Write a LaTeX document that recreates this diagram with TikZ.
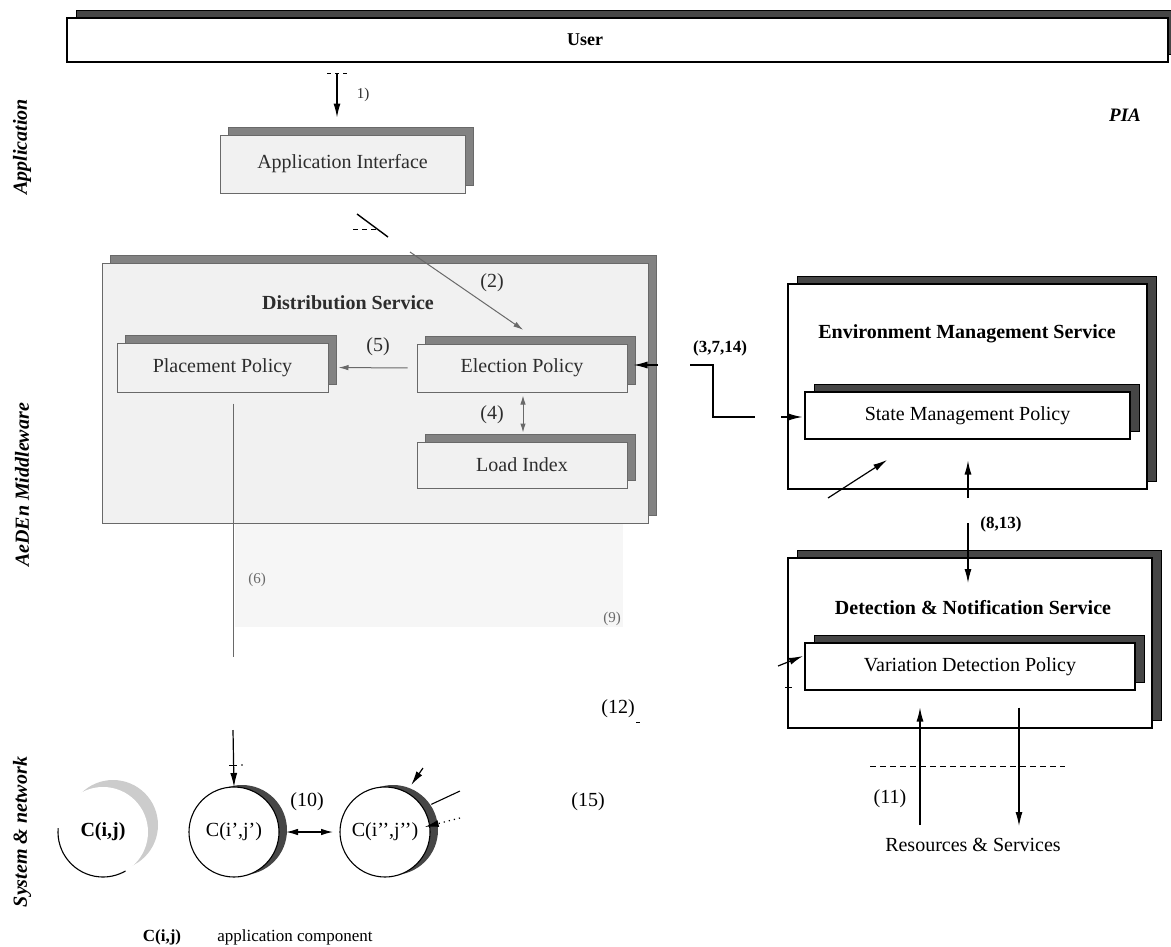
\documentclass[tikz,border=0pt]{standalone}
\usepackage{fontspec}
\setmainfont{Liberation Serif}
\usetikzlibrary{positioning,arrows.meta,shadows}
\definecolor{PanelGray}{RGB}{241,241,241}
\definecolor{EdgeGray}{RGB}{105,105,105}
\definecolor{ShadeGray}{RGB}{130,130,130}
\definecolor{ShadeDark}{RGB}{70,70,70}
\definecolor{InkGray}{RGB}{45,45,45}
\definecolor{GhostGray}{RGB}{246,246,246}

\begin{document}
\begin{tikzpicture}[x=1pt, y=-1pt, every node/.style={font=\fontsize{20}{24}\selectfont, inner sep=0pt}]
\tikzset{
  mwbox/.style={draw=EdgeGray, fill=PanelGray, line width=1pt, text=InkGray,
    copy shadow={shadow xshift=8pt, shadow yshift=8pt, fill=ShadeGray, draw=EdgeGray, line width=1pt}},
  svbox/.style={draw=black, fill=white, line width=1.1pt,
    copy shadow={shadow xshift=9pt, shadow yshift=8pt, fill=ShadeDark, draw=black, line width=1pt}},
  comp/.style={circle, fill=white, line width=1.1pt, minimum size=90pt, outer sep=0pt},
  cdark/.style={comp, draw=black,
    copy shadow={shadow xshift=8pt, shadow yshift=2pt, fill=ShadeDark, draw=none}},
  cghost/.style={comp, draw=none,
    copy shadow={shadow xshift=10pt, shadow yshift=7pt, fill=gray!40, draw=none}},
  numtag/.style={font=\fontsize{17}{20}\selectfont\bfseries},
  smalltag/.style={font=\fontsize{15}{18}\selectfont, text=EdgeGray},
  sidelabel/.style={rotate=90, font=\fontsize{20}{24}\selectfont\bfseries\itshape},
  arr/.style={-{Latex[length=14pt,width=7pt]}, line width=1.2pt},
  grayarr/.style={-{Latex[length=10pt,width=5.5pt]}, line width=1pt, EdgeGray},
  grayline/.style={line width=1pt, EdgeGray}
}
\useasboundingbox (0,0) rectangle (1171,946);
% layer labels
\node[sidelabel] (lapp) at (22,147) {Application};
\node[sidelabel] (lmid) at (22,485) {AeDEn Middleware};
\node[sidelabel] (lsys) at (22,832) {System \& network};
\node[font=\fontsize{19}{22}\selectfont\bfseries\itshape] (pia) at (1125,115) {PIA};

% user and application layer
\node[svbox, minimum width=1101pt, minimum height=44pt] (user) at (617.5,40) {};
\node[font=\fontsize{18}{22}\selectfont\bfseries] (usertxt) at (585,40) {User};
\node[mwbox, minimum width=245pt, minimum height=58pt] (appif) at (342.5,164) {Application Interface};
\coordinate (u1) at (337,73);
\draw[arr, shorten >=17pt] (u1) -- (u1 |- appif.north);
\draw[dashed, dash pattern=on 4pt off 4pt, line width=0.8pt] ([xshift=-10pt]u1) -- ([xshift=10pt]u1);
\node[font=\fontsize{15}{18}\selectfont, text=InkGray] (l1) at (363,95) {1)};

% distribution service
\fill[GhostGray] (235,523) rectangle (623,627);
\node[mwbox, minimum width=546pt, minimum height=260pt] (dist) at (375,393) {};
\node[font=\fontsize{20}{24}\selectfont\bfseries, text=InkGray] (disttxt) at (348,303) {Distribution Service};
\node[mwbox, minimum width=211pt, minimum height=49pt] (place) at (222.5,367.5) {Placement Policy};
\node[mwbox, minimum width=210pt, minimum height=48pt] (elect) at (522,368) {Election Policy};
\node[mwbox, minimum width=210pt, minimum height=46pt] (load) at (522,465) {Load Index};

\coordinate (s1) at (357,214);
\coordinate (s2) at (388,237);
\draw[line width=1.4pt] (s1) -- (s2);
\draw[dashed, dash pattern=on 5pt off 4pt, line width=1pt] (353,229) -- (377,229);
\coordinate (e2) at (410,252);
\draw[grayarr, shorten >=24pt] (e2) -- ([xshift=21pt]elect.north);
\node[text=InkGray] (l2) at (492,283) {(2)};
\draw[grayarr, shorten <=9pt, shorten >=10pt] (elect.west) -- (place.east);
\node[text=InkGray] (l5) at (378,347) {(5)};
\draw[grayarr, {Latex[length=9pt,width=5.5pt]}-{Latex[length=9pt,width=5.5pt]}, shorten <=3pt, shorten >=9pt]
  ([xshift=1pt]elect.south) -- ([xshift=1pt]load.north);
\node[text=InkGray] (l4) at (492,415) {(4)};

\coordinate (p6) at (233,657);
\draw[grayline, shorten <=11pt] (place.south -| p6) -- (p6);
\node[smalltag] (l6) at (257,580) {(6)};
\node[smalltag] (l9) at (612,619) {(9)};

% environment management and detection services
\node[svbox, minimum width=359pt, minimum height=205pt] (ems) at (967.5,386.5) {};
\node[font=\fontsize{20}{24}\selectfont\bfseries] (emstxt) at (967,334) {Environment Management Service};
\node[svbox, minimum width=325pt, minimum height=47pt] (smp) at (967.5,415.5) {State Management Policy};
\node[svbox, minimum width=364pt, minimum height=170pt] (dns) at (970,643) {};
\node[font=\fontsize{20}{24}\selectfont\bfseries] (dnstxt) at (973,608) {Detection \& Notification Service};
\node[svbox, minimum width=330pt, minimum height=47pt] (vdp) at (970,666.5) {Variation Detection Policy};

\coordinate (k0) at (658,365);
\draw[arr, shorten >=6pt] (k0) -- (k0 -| elect.east);
\coordinate (k1) at (690,365);
\coordinate (k2) at (755,417);
\draw[line width=1.2pt] (k1) -- ++(23,0) |- (k2);
\coordinate (k3) at (781,417);
\draw[arr, shorten >=2pt] (k3) -- (k3 -| smp.west);
\node[numtag] (l3) at (720,348) {(3,7,14)};

\coordinate (m1) at (828,498);
\coordinate (m1b) at (887,460);
\draw[arr] (m1) -- (m1b);
\coordinate (m2) at (968,498);
\draw[arr, shorten >=21pt] (m2) -- (m2 |- smp.south);
\coordinate (m3) at (968,523);
\coordinate (m4) at (968,583);
\draw[arr] (m3) -- (m4);
\node[numtag] (l8) at (1001,524) {(8,13)};

\coordinate (v1) at (778,666);
\coordinate (v1b) at (803,656);
\draw[arr] (v1) -- (v1b);
\draw[line width=0.8pt] (785,687) -- (792,687);

\coordinate (r1) at (920,825);
\draw[arr, shorten >=17pt] (r1) -- (r1 |- vdp.south);
\coordinate (r2) at (1019,826);
\draw[arr, shorten <=17pt] (r2 |- vdp.south) -- (r2);
\draw[dashed, dash pattern=on 6pt off 4pt, line width=1pt] (870,766) -- (1065,766);
\node (l11) at (890,799) {(11)};
\node (res) at (973,845) {Resources \& Services};

\node (l12) at (618,709) {(12)};
\draw[line width=0.8pt] (636,722) -- (640,722);
\node (l15) at (588,802) {(15)};

% application components
\node[cghost] (cij) at (103,832) {\textbf{C(i,j)}};
\draw[line width=1.1pt] (cij.175) arc[start angle=175, end angle=300, radius=45pt];
\node[cdark] (c2) at (234,832) {C(i'{},j'{})};
\node[cdark] (c3) at (385,832) {C(i'{}'{},j'{}'{})};

\coordinate (c2in) at (233,730);
\draw[arr] (c2in) -- (c2.north);
\draw[line width=0.8pt] (229,765) -- (237,765);
\fill (242,765) circle[radius=0.8pt];
\draw[arr, {Latex[length=12pt,width=6.5pt]}-{Latex[length=12pt,width=6.5pt]}, shorten <=7pt, shorten >=7pt] (c2.east) -- (c3.west);
\node (l10) at (307,802) {(10)};

\coordinate (c3a) at (423,768);
\draw[arr, shorten >=9pt] (c3a) -- (c3.62);
\coordinate (c3b) at (460,791);
\draw[line width=1.1pt, shorten >=9pt] (c3b) -- (c3.32);
\coordinate (c3c) at (460,818);
\draw[arr, dash pattern=on 1.2pt off 4pt, shorten >=-5pt] (c3c) -- (c3.8);

% legend
\node[font=\fontsize{17}{20}\selectfont\bfseries] (legc) at (162,937) {C(i,j)};
\node[font=\fontsize{17}{20}\selectfont] (legt) at (295,937) {application component};
\end{tikzpicture}
\end{document}
